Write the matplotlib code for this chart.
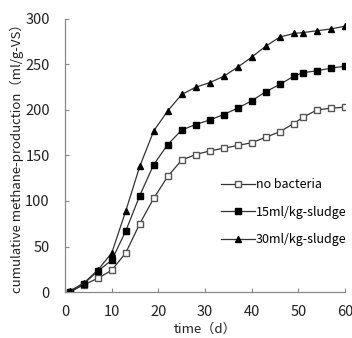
import numpy as np
import matplotlib
matplotlib.use("Agg")
import matplotlib.pyplot as plt

plt.rcParams['font.family'] = ['Noto Sans CJK SC', 'DejaVu Sans']

days = [1, 4, 7, 10, 13, 16, 19, 22, 25, 28, 31, 34, 37, 40, 43, 46, 49, 51, 54, 57, 60]
no_bacteria = [0, 8, 15, 24, 43, 75, 103, 127, 145, 151, 155, 158, 161, 164, 170, 176, 185, 192, 200, 202, 203]
sludge_15 = [0, 9, 23, 35, 67, 106, 140, 162, 178, 184, 189, 195, 202, 210, 220, 228, 237, 241, 243, 246, 248]
sludge_30 = [1, 10, 24, 43, 89, 138, 177, 199, 217, 225, 230, 237, 247, 258, 270, 280, 284, 285, 287, 289, 292]
labels = ['no bacteria', '15ml/kg-sludge', '30ml/kg-sludge']

fig = plt.figure(figsize=(3.52, 3.38), dpi=100)
ax = fig.add_axes([0.185, 0.136, 0.795, 0.808])

line_col = '#333333'
ax.plot(days, no_bacteria, color=line_col, lw=0.9, marker='s', ms=4.5,
        mfc='white', mec='#555555', mew=1.0, label=labels[0])
ax.plot(days, sludge_15, color=line_col, lw=0.9, marker='s', ms=5,
        mfc='black', mec='black', label=labels[1])
ax.plot(days, sludge_30, color=line_col, lw=0.9, marker='^', ms=5,
        mfc='black', mec='black', label=labels[2])

ax.set_xlim(0, 60)
ax.set_ylim(0, 300)
ax.set_xticks(np.arange(0, 61, 10))
ax.set_yticks(np.arange(0, 301, 50))
for s in ['top', 'right']:
    ax.spines[s].set_visible(False)
for s in ['left', 'bottom']:
    ax.spines[s].set_color('#888888')
    ax.spines[s].set_linewidth(0.9)
ax.tick_params(direction='in', length=3, color='#888888', labelsize=10.5,
               labelcolor='#222222')
ax.tick_params(axis='x', pad=9)
ax.tick_params(axis='y', pad=11)

ax.set_xlabel('time（d）', fontsize=9.5, color='#222222', labelpad=3)
ax.set_ylabel('cumulative methane-production（ml/g-VS）', fontsize=9.5,
              color='#222222', labelpad=1)

ax.legend(loc='upper left', bbox_to_anchor=(0.54, 0.435), frameon=False,
          fontsize=9, handlelength=2.7, handletextpad=0.05, labelspacing=1.15,
          borderaxespad=0)

fig.savefig('out.png', dpi=100)
